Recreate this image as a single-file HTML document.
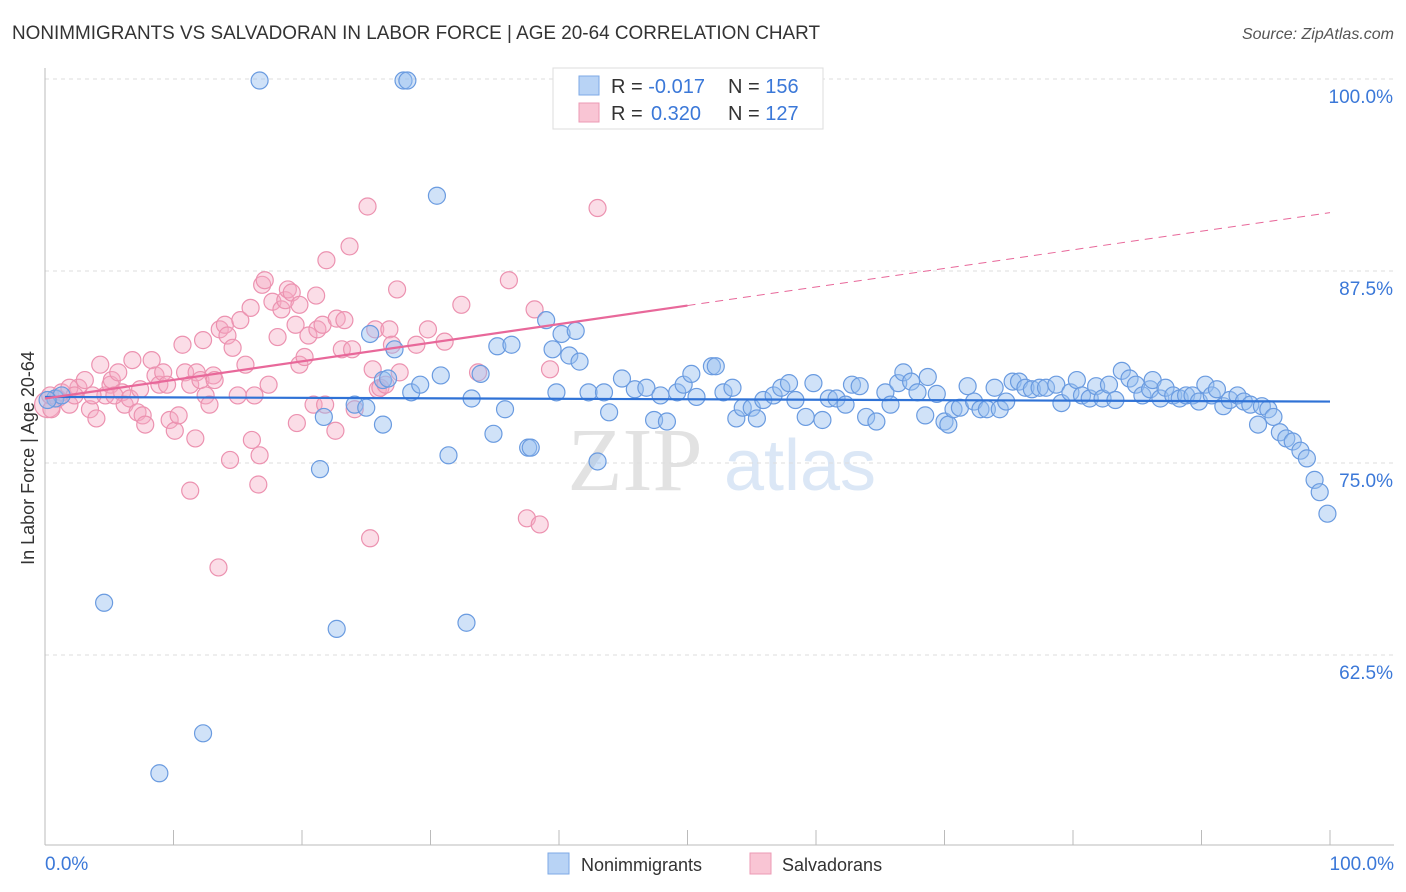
<!DOCTYPE html>
<html><head><meta charset="utf-8"><style>
body{margin:0;background:#fff;font-family:"Liberation Sans",sans-serif;}
svg{display:block}
</style></head><body>
<svg id="chart" width="1406" height="892" xmlns="http://www.w3.org/2000/svg" font-family="Liberation Sans, sans-serif">
<text x="12" y="39" font-size="19" fill="#333" textLength="808" lengthAdjust="spacingAndGlyphs">NONIMMIGRANTS VS SALVADORAN IN LABOR FORCE | AGE 20-64 CORRELATION CHART</text>
<text x="1394" y="39" font-size="16" fill="#555" text-anchor="end" font-style="italic">Source: ZipAtlas.com</text>
<text transform="translate(34,458) rotate(-90)" font-size="18" fill="#333" text-anchor="middle">In Labor Force | Age 20-64</text>
<g>
<text x="635" y="490" font-size="90" fill="#e2e2e2" text-anchor="middle" font-family="Liberation Serif, serif">ZIP</text>
<text x="800" y="490" font-size="72" fill="#dbe7f6" text-anchor="middle">atlas</text>
</g>
<g id="grid"></g>
<g id="axes"></g>
<g id="pts"></g>
<g id="trends"></g>
<g>
<rect x="553" y="68" width="270" height="61" fill="#fff" stroke="#ddd"/>
<rect x="579" y="76" width="20" height="19" fill="#b8d3f5" stroke="#7ea9e6"/>
<rect x="579" y="103" width="20" height="19" fill="#f9c5d4" stroke="#ec9ab4"/>
<text x="611" y="93" font-size="20" fill="#333">R = <tspan fill="#3b78d8">-0.017</tspan><tspan x="728">N = </tspan><tspan fill="#3b78d8">156</tspan></text>
<text x="611" y="120" font-size="20" fill="#333">R = <tspan fill="#3b78d8" x="651">0.320</tspan><tspan x="728">N = </tspan><tspan fill="#3b78d8">127</tspan></text>
</g>
<g>
<rect x="548" y="853" width="21" height="21" fill="#b8d3f5" stroke="#7ea9e6"/>
<text x="581" y="871" font-size="18" fill="#333">Nonimmigrants</text>
<rect x="750" y="853" width="21" height="21" fill="#f9c5d4" stroke="#ec9ab4"/>
<text x="782" y="871" font-size="18" fill="#333">Salvadorans</text>
</g>
</svg>
<script>
const yTicks=[100,87.5,75,62.5];
const yTickLabels=["100.0%","87.5%","75.0%","62.5%"];
const xEndLabels=["0.0%","100.0%"];
const blueX=[16.7,27.9,28.2,30.5,4.6,8.9,12.3,22.7,32.8,21.4,21.7,25.3,27.2,26.3,26.7,26.3,31.4,34.9,35.8,35.2,36.3,37.6,39.0,40.2,41.3,39.5,40.8,41.6,43.0,28.5,29.2,30.8,33.2,33.9,24.1,25.0,39.8,42.3,43.5,43.9,44.9,45.9,46.8,47.4,48.4,47.9,49.2,49.7,50.3,50.7,51.9,52.2,52.8,53.5,53.8,54.3,55.0,55.4,55.9,56.7,57.3,57.9,58.4,59.2,59.8,60.5,61.0,61.6,62.3,62.8,63.4,63.9,64.7,65.4,65.8,66.4,66.8,67.4,67.9,68.5,68.7,69.4,70.0,70.3,70.7,71.2,71.8,72.3,72.8,73.3,73.9,74.3,74.8,75.3,75.8,76.3,76.8,77.4,77.9,78.7,79.1,79.8,80.3,80.7,81.3,81.8,82.3,82.8,83.3,83.8,84.4,84.9,85.4,86.0,86.2,86.8,87.2,87.8,88.3,88.8,89.3,89.8,90.3,90.8,91.2,91.7,92.2,92.8,93.3,93.8,94.4,94.7,95.2,95.6,96.1,96.6,97.1,97.7,98.2,98.8,99.2,99.8,0.8,1.3,0.2,37.8];
const blueY=[99.9,99.9,99.9,92.4,65.9,54.8,57.4,64.2,64.6,74.6,78.0,83.4,82.4,80.4,80.5,77.5,75.5,76.9,78.5,82.6,82.7,76.0,84.3,83.4,83.6,82.4,82.0,81.6,75.1,79.6,80.1,80.7,79.2,80.8,78.8,78.6,79.6,79.6,79.6,78.3,80.5,79.8,79.9,77.8,77.7,79.4,79.6,80.1,80.8,79.3,81.3,81.3,79.6,79.9,77.9,78.6,78.6,77.9,79.1,79.4,79.9,80.2,79.1,78.0,80.2,77.8,79.2,79.2,78.8,80.1,80.0,78.0,77.7,79.6,78.8,80.2,80.9,80.3,79.6,78.1,80.6,79.5,77.7,77.5,78.5,78.6,80.0,79.0,78.5,78.5,79.9,78.5,79.0,80.3,80.3,79.9,79.8,79.9,79.9,80.1,78.9,79.6,80.4,79.4,79.2,80.0,79.2,80.1,79.1,81.0,80.5,80.1,79.4,79.8,80.4,79.2,79.9,79.4,79.2,79.4,79.4,79.0,80.1,79.4,79.8,78.7,79.1,79.4,79.0,78.8,77.5,78.7,78.5,78.0,77.0,76.6,76.4,75.8,75.3,73.9,73.1,71.7,79.2,79.4,79.1,76.0];
const pinkX=[0.2,0.5,0.4,1.0,1.3,1.9,2.6,3.1,3.5,4.0,4.3,4.7,5.1,5.2,5.7,6.0,6.2,6.6,6.8,7.2,7.6,7.8,8.3,8.6,8.9,9.2,9.5,9.7,10.1,10.4,10.7,10.9,11.3,11.3,11.7,11.8,12.1,12.3,12.5,12.8,13.1,13.2,13.5,13.6,14.0,14.2,14.4,14.6,15.0,15.2,15.6,16.0,16.1,16.3,16.6,16.7,16.9,17.1,17.4,17.7,18.1,18.4,18.7,18.9,19.2,19.5,19.8,19.6,19.8,20.2,20.5,20.9,21.1,21.2,21.6,21.8,21.9,22.6,22.7,23.1,23.3,23.7,23.9,24.1,25.1,25.5,25.9,26.1,25.7,25.3,26.5,26.8,27.0,27.4,27.6,28.9,29.8,31.1,32.4,33.7,36.1,37.5,38.1,38.5,39.3,43.0,1.9,2.3,3.7,5.4,7.4];
const pinkY=[78.8,78.5,79.4,79.2,79.6,78.8,79.9,80.4,78.5,77.9,81.4,79.4,80.1,80.4,80.9,79.6,78.8,79.2,81.7,78.3,78.1,77.5,81.7,80.7,80.1,80.9,80.1,77.8,77.1,78.1,82.7,80.9,80.1,73.2,76.6,80.9,80.4,83.0,79.4,78.8,80.7,80.4,68.2,83.7,84.0,83.3,75.2,82.5,79.4,84.3,81.4,85.1,76.5,79.4,73.6,75.5,86.6,86.9,80.1,85.5,83.2,85.0,85.6,86.3,86.1,84.0,85.3,77.6,81.4,81.9,83.3,78.8,85.9,83.7,84.0,78.8,88.2,77.1,84.4,82.4,84.3,89.1,82.4,78.5,91.7,81.1,79.8,79.9,83.7,70.1,80.1,83.7,82.7,86.3,80.9,82.7,83.7,82.9,85.3,80.9,86.9,71.4,85.0,71.0,81.1,91.6,79.9,79.4,79.4,79.4,79.8];
const blueTrend=[79.3,79.0];
const pinkTrend=[79.2,91.3];
const pinkSolidEnd=50;

const NS="http://www.w3.org/2000/svg";
const X0=45,X1=1330,Y100=79,PXPER=15.36;
const xs=v=>X0+(X1-X0)*v/100;
const ys=v=>Y100+(100-v)*PXPER;
function mk(tag,attrs,parent){const e=document.createElementNS(NS,tag);for(const k in attrs)e.setAttribute(k,attrs[k]);parent.appendChild(e);return e;}
const grid=document.getElementById('grid'),axes=document.getElementById('axes'),pts=document.getElementById('pts'),tr=document.getElementById('trends');
yTicks.forEach((t,i)=>{
 const l=mk('line',{x1:X0,x2:1394,y1:ys(t),y2:ys(t),stroke:'#ddd','stroke-dasharray':'4,4'},grid);
 
 
 const tx=mk('text',{x:1393,y:ys(t)+24,'font-size':19,fill:'#3b78d8','text-anchor':'end'},axes);
 tx.textContent=yTickLabels[i];
 
 
});
const ya=mk('line',{x1:X0,x2:X0,y1:68,y2:845,stroke:'#bbb'},axes);


const xa=mk('line',{x1:X0,x2:1394,y1:845,y2:845,stroke:'#bbb'},axes);


for(let i=0;i<=10;i++){
 const t=mk('line',{x1:xs(i*10),x2:xs(i*10),y1:830,y2:845,stroke:'#bbb'},axes);
 
 
}
const xl0=mk('text',{x:45,y:870,'font-size':19,fill:'#3b78d8'},axes);xl0.textContent=xEndLabels[0];


const xl1=mk('text',{x:1394,y:870,'font-size':19,fill:'#3b78d8','text-anchor':'end'},axes);xl1.textContent=xEndLabels[1];


pinkX.forEach((x,i)=>{
 const c=mk('circle',{cx:xs(x),cy:ys(pinkY[i]),r:i===0?13:8.5,fill:'rgba(246,170,195,0.4)',stroke:'#ec92b0','stroke-width':1.2},pts);
 
 
});
blueX.forEach((x,i)=>{
 const c=mk('circle',{cx:xs(x),cy:ys(blueY[i]),r:8.5,fill:'rgba(150,190,240,0.45)',stroke:'#6a9be0','stroke-width':1.2},pts);
 
 
});
const bl=mk('line',{x1:xs(0),y1:ys(blueTrend[0]),x2:xs(100),y2:ys(blueTrend[1]),stroke:'#2f72d6','stroke-width':2.2},tr);


const pm=pinkTrend[0]+(pinkTrend[1]-pinkTrend[0])*pinkSolidEnd/100;
const pl=mk('line',{x1:xs(0),y1:ys(pinkTrend[0]),x2:xs(pinkSolidEnd),y2:ys(pm),stroke:'#e8689a','stroke-width':2.2},tr);


const pd=mk('line',{x1:xs(pinkSolidEnd),y1:ys(pm),x2:xs(100),y2:ys(pinkTrend[1]),stroke:'#e8689a','stroke-width':1,'stroke-dasharray':'8,6'},tr);


</script>
</body></html>
